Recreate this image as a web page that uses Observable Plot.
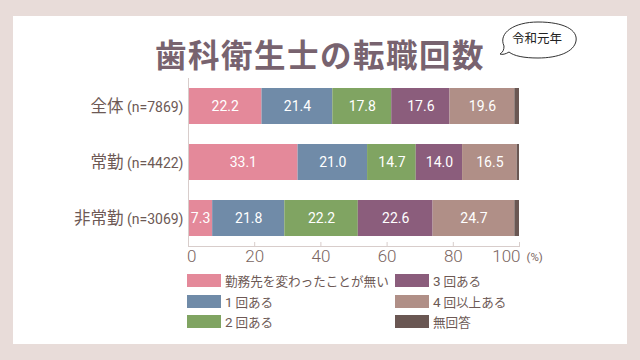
<!DOCTYPE html>
<html><head><meta charset="utf-8">
<script src="https://cdn.jsdelivr.net/npm/d3@7"></script>
<script src="https://cdn.jsdelivr.net/npm/@observablehq/plot@0.6"></script>
<style>
html,body{margin:0;padding:0;}
body{width:640px;height:360px;overflow:hidden;font-family:"Noto Sans CJK JP","Noto Sans",sans-serif;}
#root{position:relative;width:640px;height:360px;background:#e8dcd9;}
#panel{position:absolute;left:13px;top:16px;width:614px;height:328px;background:#fff;}
#title{position:absolute;left:0;width:640px;top:33px;text-align:center;font-size:31.5px;font-weight:700;color:#78636f;letter-spacing:1.5px;line-height:40px;}
#bubble{position:absolute;left:490px;top:15px;width:100px;height:50px;}
#chart{position:absolute;left:0;top:0;}
#legend{position:absolute;left:187px;top:274px;display:grid;grid-template-rows:repeat(3,13px);grid-auto-flow:column;grid-template-columns:208px 200px;row-gap:7.6px;}
.li{display:flex;align-items:center;height:13px;font-size:12.6px;color:#6d5955;white-space:nowrap;}
.sw{width:34px;height:13px;margin-right:4px;flex:none;}
.num{font-family:Roboto,"Liberation Sans",sans-serif;font-weight:400;font-size:13.5px;}
</style></head>
<body>
<div id="root">
  <div id="panel"></div>
  <div id="title">歯科衛生士の転職回数</div>
  <svg id="bubble" width="100" height="50" viewBox="0 0 100 50">
    <path d="M 14 31 C 8 18 24 7 48 7 C 74 7 88 15 86 26 C 84 37 68 43 48 43 C 34 43 24 41 19 37 C 16 39 12 40 10 39 C 13 37 14 35 14 31 Z" fill="#fff" stroke="#333" stroke-width="1"/>
    <text x="47" y="25" text-anchor="middle" dominant-baseline="middle" font-size="12.5" fill="#222" font-family="Noto Sans CJK JP">令和元年</text>
  </svg>
  <div id="chart"></div>
  <div id="legend"></div>
</div>
<script>
const groups = ["全体", "常勤", "非常勤"];
const groupN = ["n=7869", "n=4422", "n=3069"];
const categories = ["勤務先を変わったことが無い", "1 回ある", "2 回ある", "3 回ある", "4 回以上ある", "無回答"];
const colors = ["#e4899a", "#708ba8", "#80a462", "#8b5d7c", "#b08f87", "#6a5753"];
const zentai = [22.2, 21.4, 17.8, 17.6, 19.6, 1.4];
const jokin = [33.1, 21.0, 14.7, 14.0, 16.5, 0.7];
const hijokin = [7.3, 21.8, 22.2, 22.6, 24.7, 1.4];
const xTicks = [0, 20, 40, 60, 80, 100];

const series = [zentai, jokin, hijokin];
const rows = [];
groups.forEach((g, gi) => categories.forEach((c, ci) => rows.push({group: g, category: c, value: series[gi][ci]})));

const FONT = '"Noto Sans CJK JP","Noto Sans",sans-serif';
const NUMFONT = 'Roboto,"Liberation Sans",sans-serif';
const lineColor = "#d8cdcb";
const textColor = "#7a6561";

const plotH = 270, mTop = 78, mBottom = 24;
const axisStyle = {tickSize: 0, tickPadding: 3, fontSize: 17, fontWeight: 300, color: textColor, fontFamily: NUMFONT, label: null};

const chart = Plot.plot({
  width: 640, height: plotH,
  marginTop: mTop, marginBottom: mBottom, marginLeft: 188, marginRight: 121,
  style: {fontFamily: FONT, background: "transparent", overflow: "visible"},
  x: {domain: [0, 100], axis: null, label: null},
  y: {domain: groups, paddingInner: 0.366, paddingOuter: 0.162, axis: null, label: null},
  color: {domain: categories, range: colors},
  marks: [
    Plot.barX(rows, {x: "value", y: "group", fill: "category", order: null}),
    Plot.text(rows, Plot.stackX({x: "value", y: "group", order: null,
      text: d => d.category === "無回答" ? null : d.value.toFixed(1),
      fill: "white", fontSize: 14, fontWeight: 400, fontFamily: NUMFONT})),
    Plot.ruleX([0], {stroke: lineColor}),
    Plot.frame({anchor: "bottom", stroke: lineColor}),
    Plot.tickX(xTicks, {x: d => d, stroke: lineColor, insetTop: plotH - mTop - mBottom - 4}),
    Plot.axisX({...axisStyle, ticks: xTicks.slice(0, 1), textAnchor: "start", dx: -1.5}),
    Plot.axisX({...axisStyle, ticks: xTicks.slice(1, -1)}),
    Plot.axisX({...axisStyle, ticks: xTicks.slice(-1), textAnchor: "end", dx: 1}),
    Plot.axisY({tickSize: 0, tickPadding: 5, fontSize: 16.5, color: "#6d5955", label: null,
      tickFormat: g => `${g} (${groupN[groups.indexOf(g)]})`}),
    Plot.text(["(%)"], {text: d => d, frameAnchor: "bottom-right", dx: 7, dy: 11, textAnchor: "start", lineAnchor: "middle", fontSize: 11.5, fill: textColor, fontFamily: NUMFONT, fontWeight: 400})
  ]
});

// split y tick labels into name (large) and sample size (small)
d3.select(chart).selectAll('g[aria-label="y-axis tick label"] text').each(function() {
  const t = d3.select(this);
  const s = t.text();
  const i = s.indexOf(" (");
  t.text(null);
  t.append("tspan").text(s.slice(0, i));
  t.append("tspan").attr("font-size", 14).attr("font-family", NUMFONT).attr("font-weight", 400).text(s.slice(i));
});

document.getElementById("chart").appendChild(chart);

const legend = document.getElementById("legend");
categories.forEach((c, i) => {
  const el = document.createElement("div");
  el.className = "li";
  const m = c.match(/^(\d) (.*)$/);
  const label = m ? `<span class="num">${m[1]}</span>&nbsp;${m[2]}` : c;
  el.innerHTML = `<span class="sw" style="background:${colors[i]}"></span><span>${label}</span>`;
  legend.appendChild(el);
});
</script>
</body></html>
